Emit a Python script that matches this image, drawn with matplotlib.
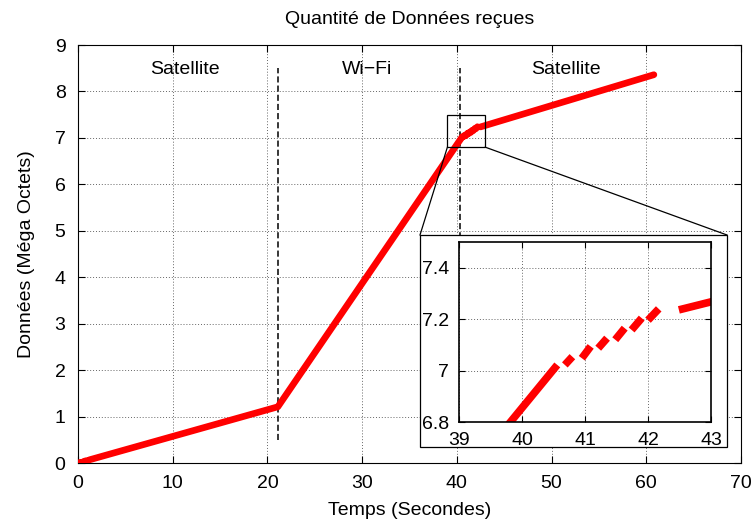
import numpy as np
import matplotlib.pyplot as plt
from matplotlib.patches import Rectangle

plt.rcParams['font.family'] = ['Liberation Sans', 'DejaVu Sans']

nan = np.nan
# Temps (s) et données reçues (Mo); NaN = trou dans la courbe
temps = [0.0, 0.3, nan, 0.6, 0.9, nan, 1.2, 21.1, 40.56, nan,
         40.68, 40.80, nan, 40.95, 41.09, nan, 41.21, 41.35, nan,
         41.48, 41.63, nan, 41.74, 41.90, nan, 42.0, 42.17, nan, 42.49, 60.8]
donnees = [0.0, 0.017, nan, 0.034, 0.051, nan, 0.068, 1.21, 7.022, nan,
           7.022, 7.054, nan, 7.048, 7.094, nan, 7.087, 7.126, nan,
           7.12, 7.165, nan, 7.158, 7.204, nan, 7.196, 7.24, nan, 7.236, 8.36]

handover_x = [21.1, 40.3]
regions = ['Satellite', 'Wi\u2212Fi', 'Satellite']
region_x = [11.3, 30.5, 51.5]

zoom_x = (39, 43)
zoom_y = (6.8, 7.5)

fig = plt.figure(figsize=(7.55, 5.24), dpi=100)
W, H = 755, 524
ax = fig.add_axes([78 / W, 1 - 463 / H, (741 - 78) / W, (463 - 45) / H])

ax.plot(temps, donnees, color='#ff0000', lw=4.8, solid_capstyle='round', zorder=3)
for hx in handover_x:
    ax.plot([hx, hx], [0.5, 8.5], color='black', lw=1.1, ls=(0, (4, 2)), zorder=2)
for name, rx in zip(regions, region_x):
    ax.text(rx, 8.47, name, ha='center', va='center', fontsize=14)

ax.set_xlim(0, 70)
ax.set_ylim(0, 9)
ax.set_xticks(range(0, 71, 10))
ax.set_yticks(range(0, 10))
ax.grid(True, ls=(0, (1, 2)), color='#666666', lw=0.7)
ax.tick_params(direction='in', top=True, right=True, labelsize=14, length=5)
ax.tick_params(axis='x', pad=9)
ax.tick_params(axis='y', pad=9)
ax.set_xlabel('Temps (Secondes)', fontsize=14, labelpad=7)
ax.set_ylabel('Données (Méga Octets)', fontsize=14, labelpad=14)
ax.set_title('Quantité de Données reçues', fontsize=14, pad=15)

# rectangle de zoom
ax.add_patch(Rectangle((zoom_x[0], zoom_y[0]), zoom_x[1] - zoom_x[0], zoom_y[1] - zoom_y[0],
                       fill=False, ec='black', lw=0.9, zorder=4))

# cadre de l'encart (pixels)
bx0, bx1, by0, by1 = 420, 727, 235, 447
fig.patches.append(Rectangle((bx0 / W, 1 - by1 / H), (bx1 - bx0) / W, (by1 - by0) / H,
                             transform=fig.transFigure, fc='white', ec='black', lw=0.9, zorder=5))

# lignes de liaison
def to_fig(x, y):
    p = ax.transData.transform((x, y))
    return fig.transFigure.inverted().transform(p)

p1 = to_fig(zoom_x[0], zoom_y[0])
p2 = to_fig(zoom_x[1], zoom_y[0])
fig.lines.append(plt.Line2D([p1[0], bx0 / W], [p1[1], 1 - by0 / H], transform=fig.transFigure,
                            color='black', lw=0.9, zorder=5))
fig.lines.append(plt.Line2D([p2[0], bx1 / W], [p2[1], 1 - by0 / H], transform=fig.transFigure,
                            color='black', lw=0.9, zorder=5))

ins = fig.add_axes([459 / W, 1 - 422 / H, (711 - 459) / W, (422 - 242) / H], zorder=6)
ins.plot(temps, donnees, color='#ff0000', lw=5.5, solid_capstyle='butt')
ins.set_xlim(*zoom_x)
ins.set_ylim(*zoom_y)
ins.set_xticks([39, 40, 41, 42, 43])
ins.set_yticks([6.8, 7.0, 7.2, 7.4])
ins.set_yticklabels(['6.8', '7', '7.2', '7.4'])
ins.grid(True, ls=(0, (1, 2)), color='#666666', lw=0.7)
ins.tick_params(direction='in', top=True, right=True, labelsize=14, length=4)
ins.tick_params(axis='x', pad=7)
ins.tick_params(axis='y', pad=7)
for s in ins.spines.values():
    s.set_linewidth(1.2)

fig.savefig('out.png', dpi=100)
